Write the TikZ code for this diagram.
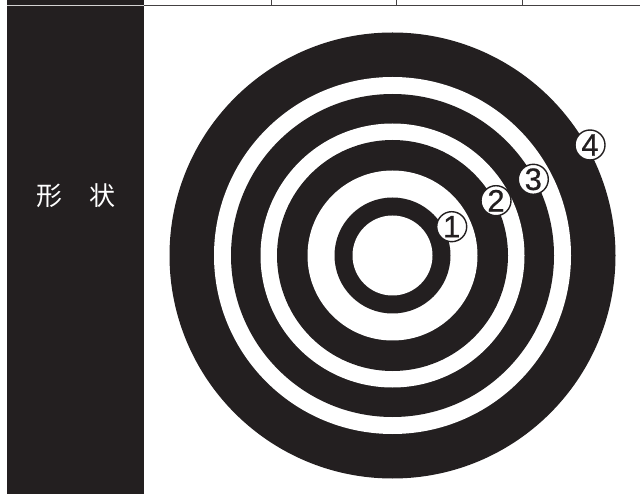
\documentclass[tikz,border=0pt]{standalone}
\usepackage{fontspec}
\setmainfont{Liberation Sans}
\newfontfamily\cjk{Noto Sans CJK JP}
\definecolor{ink}{HTML}{231F20}
\begin{document}
\begin{tikzpicture}[x=1pt,y=-1pt,
  num/.style={circle, draw=ink, line width=1.4pt, fill=white, inner sep=0pt,
    minimum size=30pt, text=ink, font=\fontsize{31}{31}\selectfont},
  lab/.style={text=white, inner sep=0pt, font=\cjk\fontsize{26}{26}\selectfont}]
\useasboundingbox (0,0) rectangle (640,494);
\fill[white] (0,0) rectangle (640,494);
% left column
\fill[ink] (7,0) rectangle (144,494);
\draw[white!80!ink, line width=1pt] (7,5.6) -- (144,5.6);
\draw[ink!85, line width=1.2pt] (144,5.6) -- (640,5.6);
\foreach \xx in {271.7,396.7,522.7} \draw[ink!85, line width=1.2pt] (\xx,0) -- (\xx,5.6);
\node[lab] (k1) at (49,196) {形};
\node[lab] (k2) at (102.5,196) {状};
% target rings
\coordinate (c) at (392.5,255.5);
\fill[ink]   (c) circle[radius=223pt];
\fill[white] (c) circle[radius=178.5pt];
\fill[ink]   (c) circle[radius=161.5pt];
\fill[white] (c) circle[radius=132pt];
\fill[ink]   (c) circle[radius=115.5pt];
\fill[white] (c) circle[radius=85pt];
\fill[ink]   (c) circle[radius=58pt];
\fill[white] (c) circle[radius=40pt];
% numbered labels
\node[num] (n1) at (451.7,226.7) {\addfontfeature{FakeBold=0.6}1};
\node[num] (n2) at (496,200.7) {\addfontfeature{FakeBold=0.6}2};
\node[num] (n3) at (533.3,179.3) {\addfontfeature{FakeBold=0.6}3};
\node[num] (n4) at (590,145) {\addfontfeature{FakeBold=0.6}4};
\end{tikzpicture}
\end{document}
